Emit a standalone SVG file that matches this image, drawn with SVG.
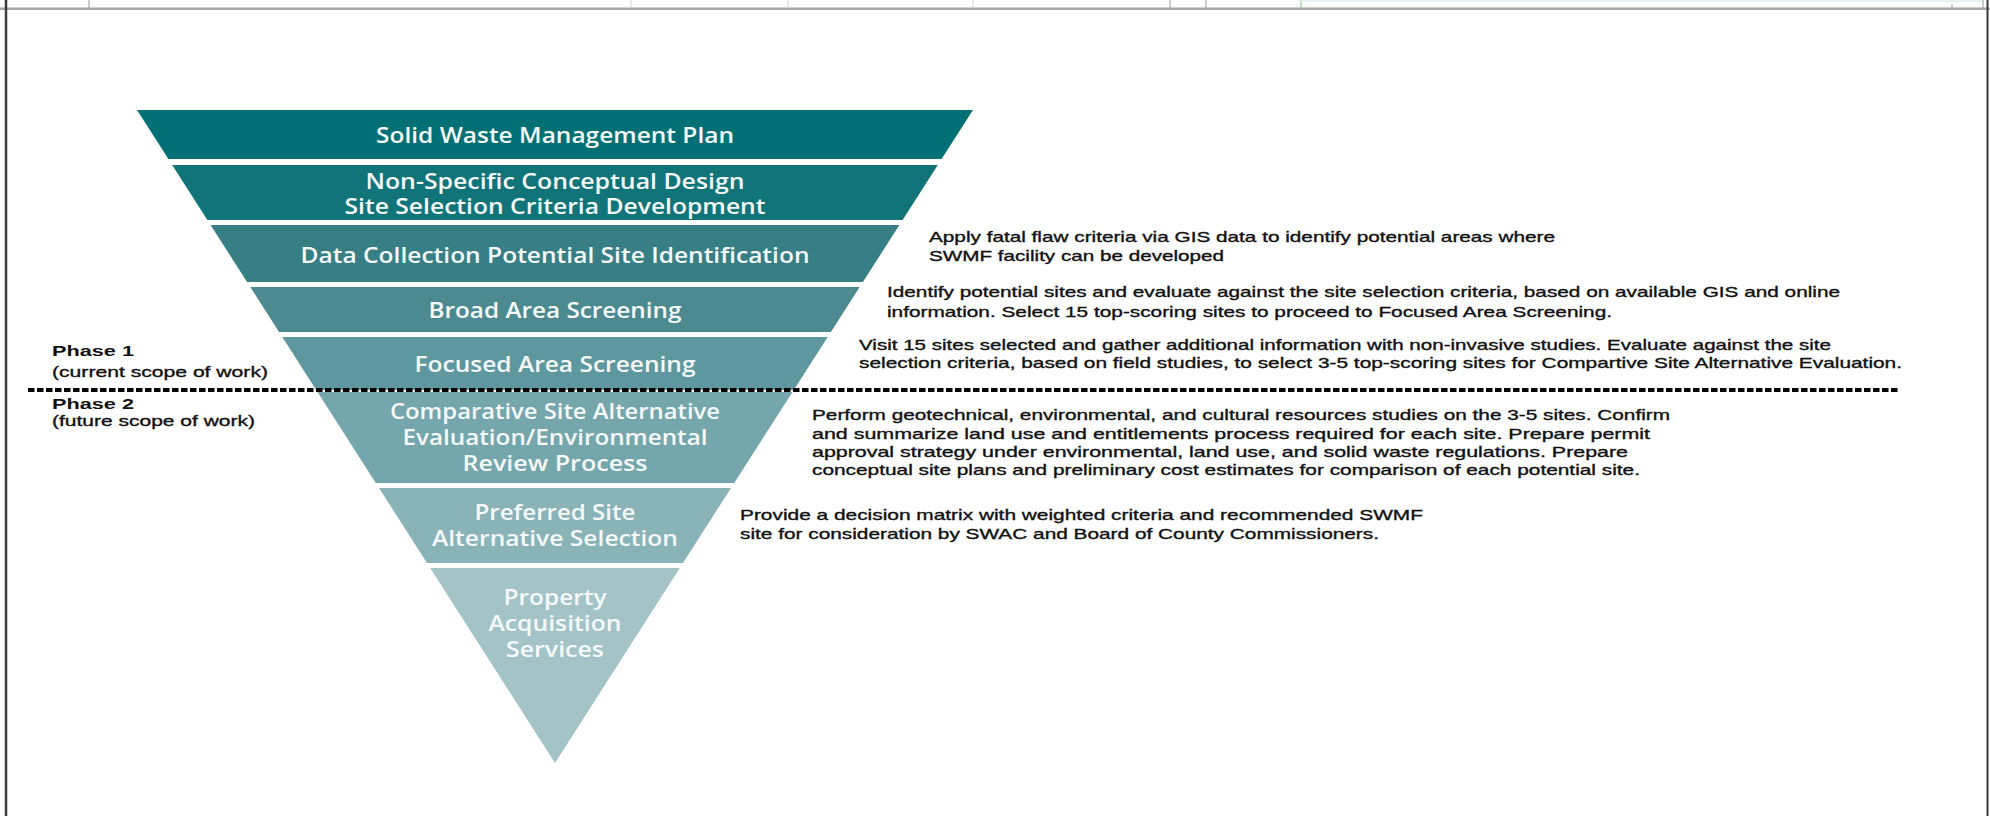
<svg xmlns="http://www.w3.org/2000/svg" width="1990" height="816" viewBox="0 0 1990 816">
<style>
.band text{font-family:"Open Sans","Liberation Sans",sans-serif;font-weight:600;font-size:21px;fill:#f5f9f9;text-anchor:middle}
.desc{font-family:"Liberation Sans",Arial,sans-serif;font-size:15px;fill:#111;stroke:#111;stroke-width:0.35}
.phase{font-family:"Liberation Sans",Arial,sans-serif;font-size:15px;font-weight:bold;fill:#111}
.phsub{font-family:"Liberation Sans",Arial,sans-serif;font-size:15px;fill:#111;stroke:#111;stroke-width:0.35}
.grid{stroke:#9a9a9a;stroke-width:1}
.gridl{stroke:#d0d0d0;stroke-width:1}
</style>
<rect width="1990" height="816" fill="#ffffff"/>
<g id="frame">
<line x1="0" y1="7.5" x2="1990" y2="7.5" stroke="#cfcfcf" stroke-width="1"/>
<line x1="0" y1="9" x2="1990" y2="9" stroke="#8a8a8a" stroke-width="1.5"/>
<line class="grid" x1="89" y1="0" x2="89" y2="8"/>
<line class="gridl" x1="631" y1="0" x2="631" y2="8"/>
<line class="gridl" x1="788" y1="0" x2="788" y2="8"/>
<line class="gridl" x1="973" y1="0" x2="973" y2="8"/>
<line class="grid" x1="1170" y1="0" x2="1170" y2="8"/>
<line class="grid" x1="1206" y1="0" x2="1206" y2="8"/>
<line x1="1301" y1="0" x2="1301" y2="8" stroke="#7cc47c" stroke-width="1"/>
<line x1="1301" y1="1" x2="1983" y2="1" stroke="#e6f2f6" stroke-width="2"/>
<line class="grid" x1="1983" y1="0" x2="1983" y2="8"/>
<line class="grid" x1="1952" y1="4" x2="1952" y2="8"/>
<line x1="6" y1="0" x2="6" y2="816" stroke="#3a3a3a" stroke-width="2.5"/>
<line x1="1987.5" y1="0" x2="1987.5" y2="816" stroke="#3a3a3a" stroke-width="2"/>
</g>
<g id="node-swmp" class="band">
<polygon points="137,110 973,110 941.6,159 168.4,159" fill="#007075"/>
<text x="555" y="142.5" textLength="358" lengthAdjust="spacingAndGlyphs">Solid Waste Management Plan</text>
</g>
<g id="node-criteria" class="band">
<polygon points="172.2,165 937.8,165 902.6,220 207.4,220" fill="#107478"/>
<text x="555" y="189" textLength="379" lengthAdjust="spacingAndGlyphs">Non-Specific Conceptual Design</text>
<text x="555" y="214" textLength="421" lengthAdjust="spacingAndGlyphs">Site Selection Criteria Development</text>
</g>
<g id="node-data" class="band">
<polygon points="210.6,225 899.4,225 862.9,282 247.1,282" fill="#377f85"/>
<text x="555" y="262.5" textLength="509" lengthAdjust="spacingAndGlyphs">Data Collection Potential Site Identification</text>
</g>
<g id="node-broad" class="band">
<polygon points="250.3,287 859.7,287 830.9,332 279.1,332" fill="#4c8a90"/>
<text x="555" y="317.5" textLength="253" lengthAdjust="spacingAndGlyphs">Broad Area Screening</text>
</g>
<g id="node-focused" class="band">
<polygon points="282.3,337 827.7,337 793.8,390 316.2,390" fill="#5e989e"/>
<text x="555" y="372" textLength="281" lengthAdjust="spacingAndGlyphs">Focused Area Screening</text>
</g>
<g id="node-comparative" class="band">
<polygon points="317.5,392 792.5,392 734.2,483 375.8,483" fill="#74a6ab"/>
<text x="555" y="418.5" textLength="330" lengthAdjust="spacingAndGlyphs">Comparative Site Alternative</text>
<text x="555" y="444.5" textLength="305" lengthAdjust="spacingAndGlyphs">Evaluation/Environmental</text>
<text x="555" y="470.5" textLength="185" lengthAdjust="spacingAndGlyphs">Review Process</text>
</g>
<g id="node-preferred" class="band">
<polygon points="379,488 731,488 683,563 427,563" fill="#8ab3b8"/>
<text x="555" y="519.5" textLength="161" lengthAdjust="spacingAndGlyphs">Preferred Site</text>
<text x="555" y="546" textLength="246" lengthAdjust="spacingAndGlyphs">Alternative Selection</text>
</g>
<g id="node-property" class="band">
<polygon points="430.2,568 679.8,568 555,763" fill="#a4c3c7"/>
<text x="555" y="604.5" textLength="103" lengthAdjust="spacingAndGlyphs">Property</text>
<text x="555" y="630.5" textLength="133" lengthAdjust="spacingAndGlyphs">Acquisition</text>
<text x="555" y="657" textLength="98" lengthAdjust="spacingAndGlyphs">Services</text>
</g>
<g id="connectors">
<line id="phase-divider" x1="28" y1="390" x2="1900" y2="390" stroke="#000" stroke-width="4" stroke-dasharray="6.5 2.5"/>
</g>
<g id="phase-labels">
<text class="phase" x="52" y="356" textLength="82" lengthAdjust="spacingAndGlyphs">Phase 1</text>
<text class="phsub" x="52" y="377" textLength="216" lengthAdjust="spacingAndGlyphs">(current scope of work)</text>
<text class="phase" x="52" y="409" textLength="82" lengthAdjust="spacingAndGlyphs">Phase 2</text>
<text class="phsub" x="52" y="426" textLength="203" lengthAdjust="spacingAndGlyphs">(future scope of work)</text>
</g>
<g id="descriptions">
<text class="desc" x="929" y="242" textLength="626" lengthAdjust="spacingAndGlyphs">Apply fatal flaw criteria via GIS data to identify potential areas where</text>
<text class="desc" x="929" y="261" textLength="295" lengthAdjust="spacingAndGlyphs">SWMF facility can be developed</text>
<text class="desc" x="887" y="296.5" textLength="953" lengthAdjust="spacingAndGlyphs">Identify potential sites and evaluate against the site selection criteria, based on available GIS and online</text>
<text class="desc" x="887" y="317" textLength="725" lengthAdjust="spacingAndGlyphs">information. Select 15 top-scoring sites to proceed to Focused Area Screening.</text>
<text class="desc" x="859" y="350" textLength="972" lengthAdjust="spacingAndGlyphs">Visit 15 sites selected and gather additional information with non-invasive studies. Evaluate against the site</text>
<text class="desc" x="859" y="368" textLength="1043" lengthAdjust="spacingAndGlyphs">selection criteria, based on field studies, to select 3-5 top-scoring sites for Compartive Site Alternative Evaluation.</text>
<text class="desc" x="812" y="420" textLength="858" lengthAdjust="spacingAndGlyphs">Perform geotechnical, environmental, and cultural resources studies on the 3-5 sites. Confirm</text>
<text class="desc" x="812" y="439" textLength="838" lengthAdjust="spacingAndGlyphs">and summarize land use and entitlements process required for each site. Prepare permit</text>
<text class="desc" x="812" y="457" textLength="816" lengthAdjust="spacingAndGlyphs">approval strategy under environmental, land use, and solid waste regulations.  Prepare</text>
<text class="desc" x="812" y="475" textLength="828" lengthAdjust="spacingAndGlyphs">conceptual site plans and preliminary cost estimates for comparison of each potential site.</text>
<text class="desc" x="740" y="520" textLength="683" lengthAdjust="spacingAndGlyphs">Provide a decision matrix with weighted criteria and recommended SWMF</text>
<text class="desc" x="740" y="539" textLength="639" lengthAdjust="spacingAndGlyphs">site for consideration by SWAC and Board of County Commissioners.</text>
</g>
</svg>
